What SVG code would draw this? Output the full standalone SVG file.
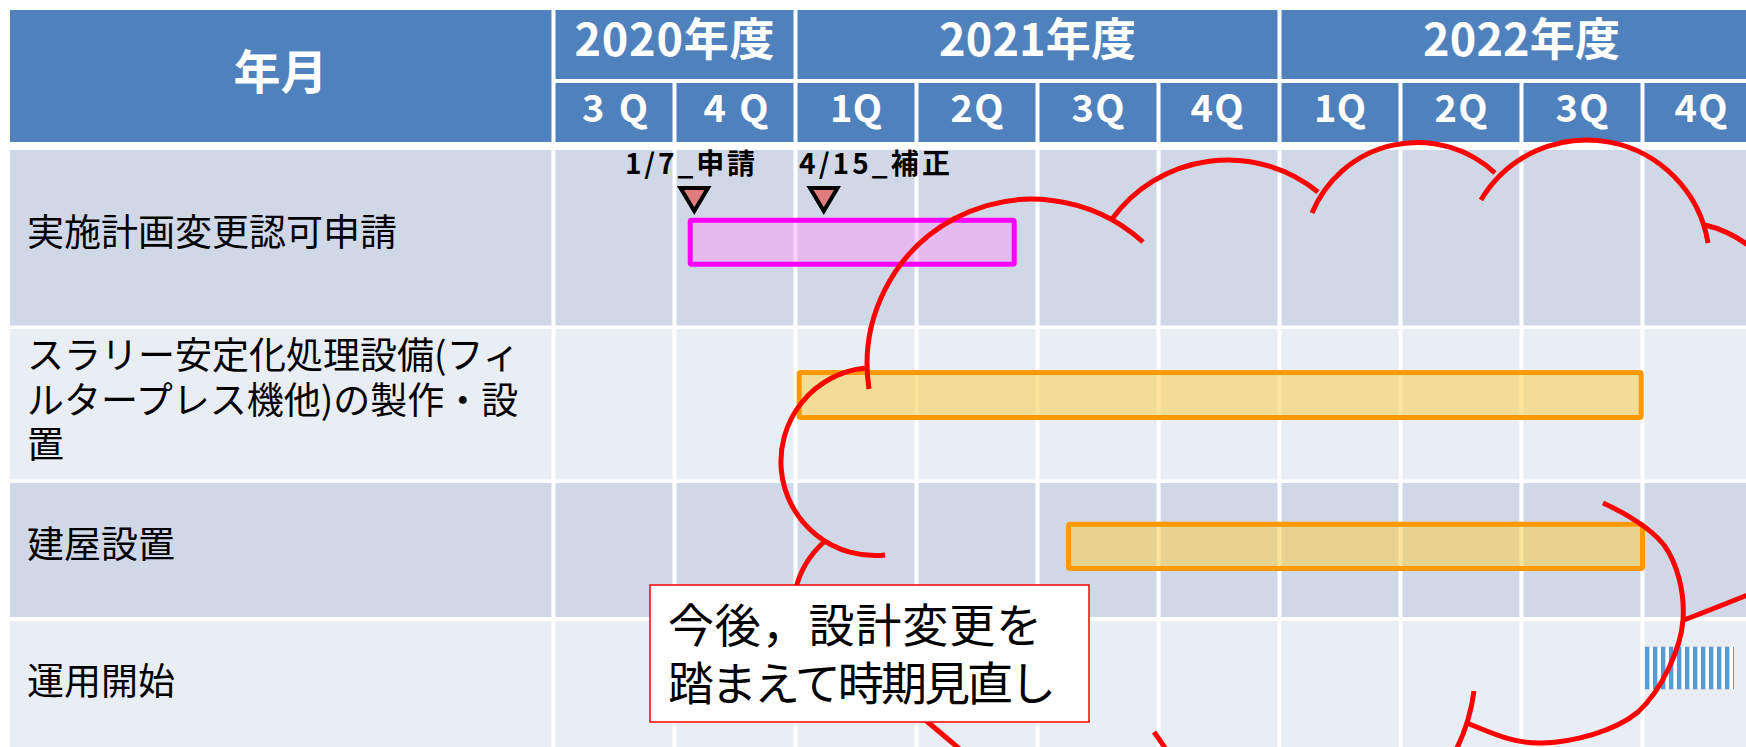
<svg xmlns="http://www.w3.org/2000/svg" width="1746" height="747" viewBox="0 0 1746 747">
<defs>
<style>
.hd{fill:#4F81BD}
.dk{fill:#D0D8E8}
.lt{fill:#E9EDF4}
.gap{fill:#FFFFFF}
.ht{font-family:"Noto Sans CJK JP","Noto Sans",sans-serif;font-weight:bold;fill:#FFFFFF;text-anchor:middle}
.yr{font-size:45px}
.qt{font-size:38px}
.lb{font-family:"Noto Sans CJK JP","Noto Sans",sans-serif;font-size:37px;fill:#000000}
.ms{font-family:"Noto Sans CJK JP","Noto Sans",sans-serif;font-size:28px;font-weight:bold;fill:#000000}
.tri{fill:#E07B7E;stroke:#000000;stroke-width:4;stroke-linejoin:miter}
.bar-o{fill:#FDCB38;fill-opacity:0.5;stroke:#FF9900;stroke-width:5}
.bar-p{fill:#FC9AFA;fill-opacity:0.45;stroke:#FF00FF;stroke-width:5}
.cl{fill:none;stroke:#FF0000;stroke-width:5;stroke-linecap:butt}
.co{font-family:"Noto Sans CJK JP","Noto Sans",sans-serif;font-size:46px;fill:#000000}
</style>
<pattern id="stripes" x="1645" y="0" width="8" height="10" patternUnits="userSpaceOnUse">
<rect width="8" height="10" fill="#FFFFFF"/>
<rect width="4.4" height="10" fill="#5B9BD5"/>
</pattern>
</defs>
<rect width="1746" height="747" fill="#FFFFFF"/>

<g id="header">
<rect class="hd" x="10" y="10" width="541.5" height="132"/>
<rect class="hd" x="555.5" y="10" width="238" height="69"/>
<rect class="hd" x="797.5" y="10" width="480" height="69"/>
<rect class="hd" x="1281.5" y="10" width="464.5" height="69"/>
<rect class="hd" x="555.5" y="83" width="117" height="59"/>
<rect class="hd" x="676.5" y="83" width="117" height="59"/>
<rect class="hd" x="797.5" y="83" width="117" height="59"/>
<rect class="hd" x="918.5" y="83" width="117" height="59"/>
<rect class="hd" x="1039.5" y="83" width="117" height="59"/>
<rect class="hd" x="1160.5" y="83" width="117" height="59"/>
<rect class="hd" x="1281.5" y="83" width="117" height="59"/>
<rect class="hd" x="1402.5" y="83" width="117" height="59"/>
<rect class="hd" x="1523.5" y="83" width="117" height="59"/>
<rect class="hd" x="1644.5" y="83" width="101.5" height="59"/>
<text class="ht" x="280.5" y="89" font-size="47">年月</text>
<text class="ht yr" x="674.5" y="56" textLength="200" lengthAdjust="spacing">2020年度</text>
<text class="ht yr" x="1037.5" y="56" textLength="197" lengthAdjust="spacing">2021年度</text>
<text class="ht yr" x="1521.5" y="56" textLength="197" lengthAdjust="spacing">2022年度</text>
<text class="ht qt" x="615" y="121.5" textLength="66" lengthAdjust="spacing">3 Q</text>
<text class="ht qt" x="736" y="121.5" textLength="65" lengthAdjust="spacing">4 Q</text>
<text class="ht qt" x="856" y="121.5" textLength="52" lengthAdjust="spacing">1Q</text>
<text class="ht qt" x="977" y="121.5" textLength="53" lengthAdjust="spacing">2Q</text>
<text class="ht qt" x="1098" y="121.5" textLength="53" lengthAdjust="spacing">3Q</text>
<text class="ht qt" x="1217" y="121.5" textLength="53" lengthAdjust="spacing">4Q</text>
<text class="ht qt" x="1340" y="121.5" textLength="52" lengthAdjust="spacing">1Q</text>
<text class="ht qt" x="1461" y="121.5" textLength="53" lengthAdjust="spacing">2Q</text>
<text class="ht qt" x="1582" y="121.5" textLength="53" lengthAdjust="spacing">3Q</text>
<text class="ht qt" x="1701" y="121.5" textLength="53" lengthAdjust="spacing">4Q</text>
</g>

<g id="grid">
<rect class="dk" x="10" y="150" width="1736" height="175.5"/>
<rect class="lt" x="10" y="329" width="1736" height="150.5"/>
<rect class="dk" x="10" y="483" width="1736" height="134"/>
<rect class="lt" x="10" y="621" width="1736" height="126"/>
<rect class="gap" x="551.5" y="150" width="4" height="597"/>
<rect class="gap" x="672.5" y="150" width="4" height="597"/>
<rect class="gap" x="793.5" y="150" width="4" height="597"/>
<rect class="gap" x="914.5" y="150" width="4" height="597"/>
<rect class="gap" x="1035.5" y="150" width="4" height="597"/>
<rect class="gap" x="1156.5" y="150" width="4" height="597"/>
<rect class="gap" x="1277.5" y="150" width="4" height="597"/>
<rect class="gap" x="1398.5" y="150" width="4" height="597"/>
<rect class="gap" x="1519.5" y="150" width="4" height="597"/>
<rect class="gap" x="1640.5" y="150" width="4" height="597"/>
</g>

<g id="row-labels">
<text class="lb" x="27" y="246">実施計画変更認可申請</text>
<text class="lb" x="27" y="369"><tspan x="27" y="369">スラリー安定化処理設備(フィ</tspan><tspan x="27" y="413.5">ルタープレス機他)の製作・設</tspan><tspan x="27" y="458">置</tspan></text>
<text class="lb" x="27" y="557.5">建屋設置</text>
<text class="lb" x="27" y="695">運用開始</text>
</g>

<g id="bar-application">
<rect class="bar-p" x="690.2" y="220.2" width="324" height="44" rx="1.5"/>
</g>
<g id="bar-equipment">
<rect class="bar-o" x="799.2" y="372.5" width="842" height="45" rx="1.5"/>
</g>
<g id="bar-building">
<rect class="bar-o" x="1068.5" y="524.2" width="574" height="44.3" rx="1.5"/>
</g>
<g id="bar-operation">
<rect x="1645" y="646.7" width="89" height="42.6" fill="url(#stripes)"/>
</g>

<g id="milestone-1">
<text class="ms" x="625" y="174" textLength="130" lengthAdjust="spacing">1/7_申請</text>
<polygon class="tri" points="680.5,188 708,188 694.3,211"/>
</g>
<g id="milestone-2">
<text class="ms" x="799" y="174" textLength="151" lengthAdjust="spacing">4/15_補正</text>
<polygon class="tri" points="810,188 837.5,188 823.8,211"/>
</g>

<g id="cloud">
<path class="cl" d="M 869 389 A 165 165 0 0 1 1143 242"/>
<path class="cl" d="M 865 368 A 94 94 0 1 0 885 555"/>
<path class="cl" d="M 824 542 A 94 94 0 0 0 887 706"/>
<path class="cl" d="M 905 703 Q 935 728 975 762"/>
<path class="cl" d="M 1154 732 Q 1160 740 1167 751"/>
<path class="cl" d="M 1456 750 Q 1470 722 1474 691"/>
<path class="cl" d="M 1603 503 C 1621 511 1650 527 1664 545 C 1677 563 1685 592 1683 620 C 1681 648 1662 690 1638 712 C 1614 732 1572 742 1543 743 C 1514 744 1492 733 1467 723"/>
<path class="cl" d="M 1760 590 Q 1715 608 1684 620"/>
<path class="cl" d="M 1112 219 A 143 143 0 0 1 1318 192"/>
<path class="cl" d="M 1312 213 A 114 114 0 0 1 1495 173"/>
<path class="cl" d="M 1481 200 A 123 123 0 0 1 1708 243"/>
<path class="cl" d="M 1705 225 Q 1735 232 1760 255"/>
</g>

<g id="callout">
<rect x="650" y="585" width="439" height="137" fill="#FFFFFF" stroke="#FF0000" stroke-width="1.5"/>
<text class="co" x="668" y="642"><tspan x="668" y="642" textLength="374" lengthAdjust="spacing">今後，設計変更を</tspan><tspan x="668" y="700" textLength="388" lengthAdjust="spacing">踏まえて時期見直し</tspan></text>
</g>
</svg>
